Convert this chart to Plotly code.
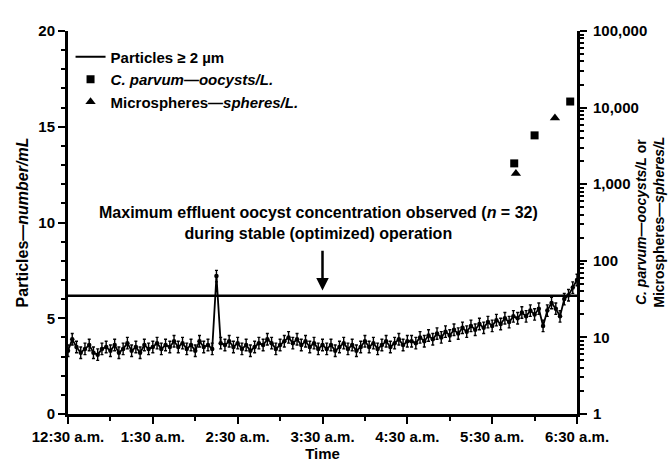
import plotly.graph_objects as go

# ---- data ----
# particle counts every 3 minutes from 12:30 a.m. (minutes since 12:30 a.m.)
particle_minutes = list(range(0, 361, 3))
particles = [
    3.3, 3.9, 3.5, 3.2, 3.4, 3.6, 3.2, 3.1, 3.4, 3.5, 3.3, 3.6, 3.2, 3.4, 3.7, 3.3,
    3.5, 3.2, 3.6, 3.4, 3.5, 3.7, 3.4, 3.6, 3.5, 3.8,
    3.5, 3.7, 3.4, 3.6, 3.3, 3.8, 3.5, 3.6, 3.4,
    7.2,
    3.7, 3.6, 3.8, 3.5, 3.7, 3.4, 3.6, 3.3, 3.5, 3.7, 3.6, 3.9, 3.7, 3.4, 3.6,
    3.8, 4.0, 3.7, 3.9, 3.6, 3.8, 3.5, 3.7, 3.4, 3.6,
    3.4, 3.6, 3.3, 3.5, 3.7, 3.4, 3.6, 3.3, 3.5, 3.8, 3.5, 3.7, 3.4, 3.6, 3.8, 3.5,
    3.7, 3.9, 3.6, 3.8,
    3.8, 3.7, 4.0, 3.8, 4.1, 3.9, 4.2, 4.0, 4.3, 4.1, 4.4, 4.2, 4.5, 4.3, 4.6, 4.4,
    4.7, 4.5, 4.8, 4.6,
    4.9, 4.7, 5.0, 4.8, 5.1, 5.0, 5.3, 5.1, 5.4, 5.2, 5.5, 4.6, 5.4, 5.8, 5.5, 5.1,
    6.0, 6.2, 6.6, 7.0,
]
particle_err = 0.3

oocyst_hours = [5.26, 5.50, 5.92]
oocysts = [1870, 4340, 12000]

sphere_hours = [5.28, 5.74]
spheres = [1380, 7300]

max_effluent_level = 35  # oocysts/L (right axis)

tick_hours = [0, 1, 2, 3, 4, 5, 6]
tick_labels = ["12:30 a.m.", "1:30 a.m.", "2:30 a.m.", "3:30 a.m.",
               "4:30 a.m.", "5:30 a.m.", "6:30 a.m."]
right_vals = [1, 10, 100, 1000, 10000, 100000]
right_labels = ["1", "10", "100", "1,000", "10,000", "100,000"]

particle_hours = [m / 60 for m in particle_minutes]

FONT = "Liberation Sans"
FS = 15
fig = go.Figure()

fig.add_trace(go.Scatter(
    x=particle_hours, y=particles, mode="lines+markers",
    line=dict(color="black", width=1.8),
    marker=dict(color="black", size=4.5),
    error_y=dict(type="constant", value=particle_err, color="black",
                 thickness=1.4, width=1.5),
    showlegend=False, yaxis="y"))

# legend entry for particles (line only)
fig.add_trace(go.Scatter(x=[None], y=[None], mode="lines",
                         line=dict(color="black", width=2),
                         name="Particles ≥ 2 µm"))

fig.add_trace(go.Scatter(
    x=oocyst_hours, y=oocysts, mode="markers", yaxis="y2",
    marker=dict(symbol="square", color="black", size=8),
    name="<i>C. parvum</i>—<i>oocysts/L.</i>"))

fig.add_trace(go.Scatter(
    x=sphere_hours, y=spheres, mode="markers", yaxis="y2",
    marker=dict(symbol="triangle-up", color="black", size=9),
    name="Microspheres—<i>spheres/L.</i>"))

fig.add_trace(go.Scatter(
    x=[tick_hours[0], tick_hours[-1]], y=[max_effluent_level, max_effluent_level],
    mode="lines", yaxis="y2", line=dict(color="black", width=2.5),
    showlegend=False, hoverinfo="skip"))

fig.add_annotation(
    x=2.95, y=10.0, xref="x", yref="y",
    text="Maximum effluent oocyst concentration observed (<i>n</i> = 32)<br>"
         "during stable (optimized) operation",
    showarrow=False, font=dict(family=FONT, size=16, color="black", weight="bold"),
    align="center")

fig.add_annotation(
    x=3.0, y=6.45, xref="x", yref="y", ax=3.0, ay=8.6, axref="x", ayref="y",
    showarrow=True, arrowhead=2, arrowsize=1, arrowwidth=2.5, arrowcolor="black",
    text="")

# right-axis title
fig.add_annotation(
    x=1.142, y=0.5, xref="paper", yref="paper", textangle=-90,
    xanchor="center", yanchor="middle", showarrow=False, align="center",
    text="<i>C. parvum</i>—<i>oocysts/L</i> or<br>Microspheres—<i>spheres/L</i>",
    font=dict(family=FONT, size=14, color="black", weight="bold"))

axis_common = dict(showline=True, linecolor="black", linewidth=3,
                   ticks="outside", tickcolor="black", tickwidth=2,
                   showgrid=False, zeroline=False, automargin=False,
                   tickfont=dict(family=FONT, size=FS, color="black", weight="bold"))

fig.update_layout(
    width=669, height=465,
    margin=dict(l=68, r=92, t=31, b=51),
    paper_bgcolor="white", plot_bgcolor="white",
    font=dict(family=FONT, size=FS, color="black", weight="bold"),
    xaxis=dict(range=[0, 6], tickvals=tick_hours, ticktext=tick_labels,
               ticklen=7, minor=dict(ticks="outside", dtick=0.5, ticklen=4,
                                     tickcolor="black", tickwidth=1.5),
               title=dict(text="Time", standoff=3,
                          font=dict(family=FONT, size=FS, weight="bold")),
               **axis_common),
    yaxis=dict(range=[0, 20], tickvals=[0, 5, 10, 15, 20], ticklen=7,
               minor=dict(ticks="outside", dtick=1, ticklen=4,
                          tickcolor="black", tickwidth=1.5),
               title=dict(text="Particles—<i>number/mL</i>", standoff=6,
                          font=dict(family=FONT, size=16, weight="bold")),
               **axis_common),
    yaxis2=dict(type="log", range=[0, 5], overlaying="y", side="right",
                tickvals=right_vals, ticktext=right_labels, ticklen=7,
                ticklabelstandoff=3,
                minor=dict(ticks="outside", dtick="D1", ticklen=4,
                           tickcolor="black", tickwidth=1.5),
                **axis_common),
    legend=dict(x=0.005, y=0.975, xanchor="left", yanchor="top",
                bgcolor="rgba(0,0,0,0)", itemwidth=30,
                font=dict(family=FONT, size=FS, weight="bold"),
                tracegroupgap=0),
)

fig.write_html("out.html")
